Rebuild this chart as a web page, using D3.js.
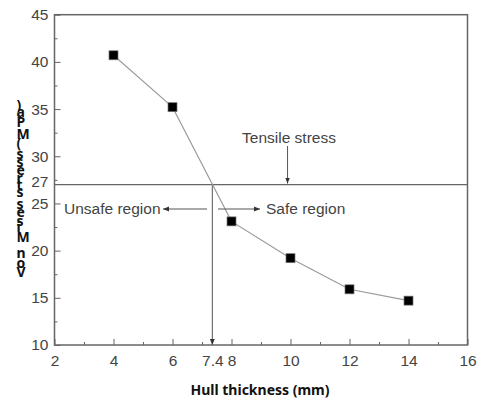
<!DOCTYPE html>
<html>
<head>
<meta charset="utf-8">
<script src="https://cdn.jsdelivr.net/npm/d3@7"></script>
<style>
  body { margin: 0; background: #fff; }
  .tick text { font-family: "Liberation Sans", Arial, sans-serif; font-size: 15.5px; fill: #444; }
</style>
</head>
<body>
<div id="chart"></div>
<script>
// data
const thickness = [4, 6, 8, 10, 12, 14];
const stress = [40.7, 35.2, 23.1, 19.2, 15.9, 14.7];
const xTicks = [2, 4, 6, 8, 10, 12, 14, 16];
const xMinor = [3, 5, 7, 9, 11, 13, 15];
const yTicks = [10, 15, 20, 25, 30, 35, 40, 45];
const yMinor = [12.5, 17.5, 22.5, 27.5, 32.5, 37.5, 42.5];
const tensileStress = 27;
const crossThickness = 7.35;
const crossLabel = "7.4";
const xTitle = "Hull thickness (mm)";
const yTitle = "Von Mises stress (MPa)";

window.onload = () => {
  const W = 482, H = 403;
  const L = 54.5, R = 467.5, T = 14.7, B = 345;
  const axisCol = "#666";

  const svg = d3.select("#chart").append("svg")
    .attr("width", W).attr("height", H);

  const defs = svg.append("defs");
  defs.append("marker")
    .attr("id", "arr")
    .attr("viewBox", "0 0 10 10")
    .attr("refX", 10).attr("refY", 5)
    .attr("markerWidth", 6).attr("markerHeight", 6)
    .attr("markerUnits", "userSpaceOnUse")
    .attr("orient", "auto")
    .append("path").attr("d", "M0,1 L10,5 L0,9 Z").attr("fill", "#333");

  const x = d3.scaleLinear().domain([2, 16]).range([L, R]);
  const y = d3.scaleLinear().domain([10, 45]).range([B, T]);

  // minor ticks
  svg.append("g").attr("transform", `translate(0,${B})`)
    .call(d3.axisBottom(x).tickValues(xMinor).tickSize(-3).tickFormat(""))
    .call(g => g.select(".domain").remove())
    .selectAll("line").attr("stroke", axisCol);
  svg.append("g").attr("transform", `translate(${L},0)`)
    .call(d3.axisLeft(y).tickValues(yMinor).tickSize(-3).tickFormat(""))
    .call(g => g.select(".domain").remove())
    .selectAll("line").attr("stroke", axisCol);

  // major ticks + labels
  const xa = svg.append("g").attr("transform", `translate(0,${B})`)
    .call(d3.axisBottom(x).tickValues(xTicks.concat([crossThickness]))
      .tickSize(-6).tickPadding(10)
      .tickFormat(d => d === crossThickness ? crossLabel : d));
  xa.select(".domain").remove();
  xa.selectAll("line").attr("stroke", axisCol)
    .filter(d => d === crossThickness).remove();

  const ya = svg.append("g").attr("transform", `translate(${L},0)`)
    .call(d3.axisLeft(y).tickValues(yTicks.concat([tensileStress]))
      .tickSize(-6).tickPadding(6));
  ya.select(".domain").remove();
  ya.selectAll("line").attr("stroke", axisCol)
    .filter(d => d === tensileStress).remove();
  ya.selectAll("text").filter(d => d === tensileStress).attr("y", -3);

  // frame
  svg.append("rect")
    .attr("x", L).attr("y", T).attr("width", R - L).attr("height", B - T)
    .attr("fill", "none").attr("stroke", axisCol).attr("stroke-width", 1.5);

  // tensile stress line
  svg.append("line")
    .attr("x1", L).attr("x2", R)
    .attr("y1", y(tensileStress)).attr("y2", y(tensileStress))
    .attr("stroke", axisCol).attr("stroke-width", 1.2);

  // vertical line down to the crossing thickness
  svg.append("line")
    .attr("x1", x(crossThickness)).attr("x2", x(crossThickness))
    .attr("y1", y(tensileStress)).attr("y2", B)
    .attr("stroke", "#555").attr("stroke-width", 1)
    .attr("marker-end", "url(#arr)");

  // data line and markers
  const pts = thickness.map((t, i) => [t, stress[i]]);
  svg.append("path")
    .datum(pts)
    .attr("d", d3.line().x(d => x(d[0])).y(d => y(d[1])))
    .attr("fill", "none").attr("stroke", "#999").attr("stroke-width", 1.1);
  svg.selectAll(".pt").data(pts).enter().append("rect")
    .attr("class", "pt")
    .attr("x", d => x(d[0]) - 4.5).attr("y", d => y(d[1]) - 4.5)
    .attr("width", 9).attr("height", 9)
    .attr("fill", "#000").attr("stroke", "#777").attr("stroke-width", 0.7);

  // annotations
  const note = (tx, ty, s, anchor) => svg.append("text")
    .attr("x", tx).attr("y", ty).attr("text-anchor", anchor || "start")
    .attr("font-family", "Liberation Sans, Arial, sans-serif")
    .attr("font-size", 15.5).attr("fill", "#444").text(s);

  note(289, 143, "Tensile stress", "middle");
  svg.append("line")
    .attr("x1", x(9.9)).attr("x2", x(9.9))
    .attr("y1", 146).attr("y2", y(tensileStress) - 1)
    .attr("stroke", "#555").attr("marker-end", "url(#arr)");

  note(64, 214, "Unsafe region");
  svg.append("line")
    .attr("x1", 207).attr("x2", 163).attr("y1", 209).attr("y2", 209)
    .attr("stroke", "#555").attr("marker-end", "url(#arr)");

  note(266, 214, "Safe region");
  svg.append("line")
    .attr("x1", 218).attr("x2", 260).attr("y1", 209).attr("y2", 209)
    .attr("stroke", "#555").attr("marker-end", "url(#arr)");

  // x title
  svg.append("text")
    .attr("x", 260).attr("y", 395).attr("text-anchor", "middle")
    .attr("font-family", "Noto Sans, sans-serif").attr("font-weight", "bold")
    .attr("font-size", 14).attr("fill", "#111").text(xTitle);

  // y title: glyphs kept upright and stacked from bottom to top
  const yt = svg.append("g").attr("font-family", "Noto Sans, sans-serif")
    .attr("font-weight", "bold").attr("font-size", 14).attr("fill", "#111");
  const probe = yt.append("text").attr("x", -100).attr("y", -100);
  let cum = 0;
  const yStart = 277;
  yTitle.split("").forEach(ch => {
    probe.text(ch === " " ? "\u00a0" : ch);
    const w = probe.node().getComputedTextLength() * 1.1;
    if (ch !== " ") {
      yt.append("text")
        .attr("x", 16.5).attr("y", yStart - cum - w / 2)
        .attr("dominant-baseline", "central")
        .text(ch);
    }
    cum += w;
  });
  probe.remove();
};
</script>
</body>
</html>
